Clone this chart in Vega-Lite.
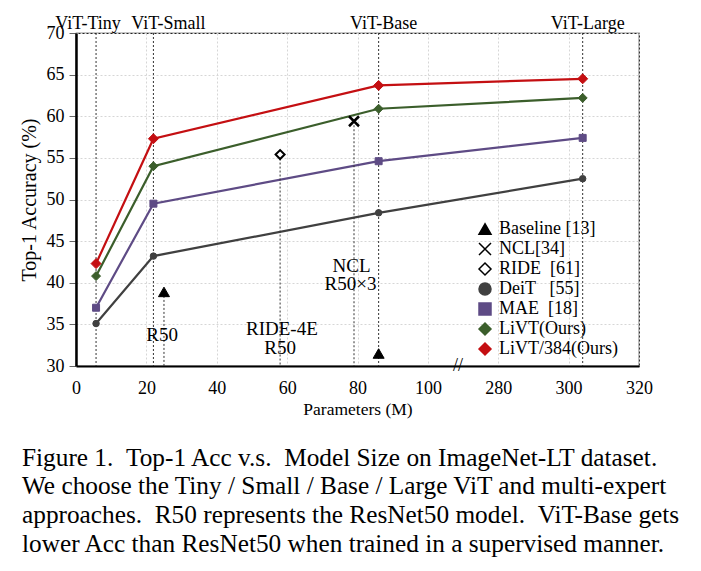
{
  "$schema": "https://vega.github.io/schema/vega-lite/v6.json",
  "width": 563,
  "height": 333,
  "autosize": {"type": "none"},
  "padding": {"left": 76, "top": 33, "right": 62, "bottom": 205},
  "background": "white",
  "title": {
    "text": [
      "Figure 1.\u00a0\u00a0Top-1 Acc v.s.\u00a0\u00a0Model Size on ImageNet-LT dataset.",
      "We choose the Tiny / Small / Base / Large ViT and multi-expert",
      "approaches.\u00a0\u00a0R50 represents the ResNet50 model.\u00a0\u00a0ViT-Base gets",
      "lower Acc than ResNet50 when trained in a supervised manner."
    ],
    "orient": "bottom",
    "anchor": "start",
    "frame": "group",
    "dx": -54,
    "offset": 28,
    "font": "Liberation Serif",
    "fontSize": 25.3,
    "fontWeight": "normal",
    "color": "black",
    "lineHeight": 28.8,
    "baseline": "top"
  },
  "config": {
    "font": "Liberation Serif",
    "view": {"stroke": "#222", "strokeWidth": 1.2},
    "axis": {
      "labelFont": "Liberation Serif",
      "titleFont": "Liberation Serif",
      "labelColor": "black",
      "titleColor": "black",
      "titleFontWeight": "normal",
      "gridColor": "#d6d6d6",
      "gridDash": [2, 2],
      "gridWidth": 1
    },
    "legend": {
      "labelFont": "Liberation Serif",
      "orient": "none", "legendX": 400, "legendY": 187, "padding": 0,
      "labelFontSize": 18, "labelColor": "black", "labelOffset": 5,
      "rowPadding": 2, "symbolSize": 144, "labelLimit": 300
    }
  },
  "datasets": {
    "main": [
      {"series": "Baseline [13]", "params": 25, "acc": 38.9},
      {"series": "Baseline [13]", "params": 86, "acc": 31.5},
      {"series": "NCL[34]", "params": 79, "acc": 59.4},
      {"series": "RIDE\u00a0\u00a0[61]", "params": 58, "acc": 55.4},
      {"series": "DeiT\u00a0\u00a0\u00a0[55]", "params": 5.7, "acc": 35.1},
      {"series": "DeiT\u00a0\u00a0\u00a0[55]", "params": 22, "acc": 43.2},
      {"series": "DeiT\u00a0\u00a0\u00a0[55]", "params": 86, "acc": 48.4},
      {"series": "DeiT\u00a0\u00a0\u00a0[55]", "params": 304, "acc": 52.5},
      {"series": "MAE\u00a0\u00a0[18]", "params": 5.7, "acc": 37.0},
      {"series": "MAE\u00a0\u00a0[18]", "params": 22, "acc": 49.5},
      {"series": "MAE\u00a0\u00a0[18]", "params": 86, "acc": 54.6},
      {"series": "MAE\u00a0\u00a0[18]", "params": 304, "acc": 57.4},
      {"series": "LiVT(Ours)", "params": 5.7, "acc": 40.8},
      {"series": "LiVT(Ours)", "params": 22, "acc": 54.0},
      {"series": "LiVT(Ours)", "params": 86, "acc": 60.9},
      {"series": "LiVT(Ours)", "params": 304, "acc": 62.2},
      {"series": "LiVT/384(Ours)", "params": 5.7, "acc": 42.3},
      {"series": "LiVT/384(Ours)", "params": 22, "acc": 57.3},
      {"series": "LiVT/384(Ours)", "params": 86, "acc": 63.7},
      {"series": "LiVT/384(Ours)", "params": 304, "acc": 64.5}
    ],
    "vit": [
      {"model": "ViT-Tiny", "params": 5.7, "top": 70, "bottom": 30},
      {"model": "ViT-Small", "params": 22, "top": 70, "bottom": 30},
      {"model": "ViT-Base", "params": 86, "top": 70, "bottom": 30},
      {"model": "ViT-Large", "params": 304, "top": 70, "bottom": 30}
    ],
    "drops": [
      {"params": 25, "top": 38.9, "bottom": 30},
      {"params": 58, "top": 55.4, "bottom": 30},
      {"params": 79, "top": 59.4, "bottom": 30}
    ],
    "notes": [
      {"params": 24.5, "acc": 33.0, "label": "R50"},
      {"params": 58.5, "acc": 33.7, "label": "RIDE-4E"},
      {"params": 58, "acc": 31.5, "label": "R50"},
      {"params": 78.3, "acc": 41.3, "label": "NCL"},
      {"params": 78.0, "acc": 39.1, "label": "R50×3"}
    ],
    "brk": [
      {"params": 177, "acc": 30, "label": "//"}
    ]
  },
  "layer": [
    {
      "data": {"name": "main"},
      "transform": [
        {"filter": {"field": "series", "oneOf": ["DeiT\u00a0\u00a0\u00a0[55]", "MAE\u00a0\u00a0[18]", "LiVT(Ours)", "LiVT/384(Ours)"]}}
      ],
      "mark": {"type": "line", "strokeWidth": 2.2},
      "encoding": {
        "x": {
          "field": "params", "type": "quantitative",
          "scale": {"type": "linear", "domain": [0, 100, 280, 320], "range": [0, 351.9, 422.2, 563], "nice": false, "zero": false},
          "axis": {
            "values": [0, 20, 40, 60, 80, 100, 280, 300, 320],
            "title": "Parameters (M)",
            "titleFontSize": 17.5,
            "titlePadding": 3,
            "labelFontSize": 18,
            "labelPadding": 13,
            "ticks": false,
            "grid": true,
            "domainColor": "black",
            "domainWidth": 2.2,
            "labelFlush": false,
            "labelOverlap": false
          }
        },
        "y": {
          "field": "acc", "type": "quantitative",
          "scale": {"domain": [30, 70], "nice": false, "zero": false},
          "axis": {
            "values": [30, 35, 40, 45, 50, 55, 60, 65, 70],
            "title": "Top-1 Accuracy (%)",
            "titleFontSize": 20,
            "titlePadding": 7,
            "labelFontSize": 18,
            "labelPadding": 5,
            "tickSize": 7,
            "tickColor": "#666",
            "grid": true,
            "domainColor": "black",
            "domainWidth": 2.5,
            "labelFlush": false,
            "labelOverlap": false
          }
        },
        "color": {
          "field": "series", "type": "nominal",
          "scale": {
            "domain": ["DeiT\u00a0\u00a0\u00a0[55]", "MAE\u00a0\u00a0[18]", "LiVT(Ours)", "LiVT/384(Ours)"],
            "range": ["#404040", "#5e4b85", "#3b5e2b", "#c40f12"]
          },
          "legend": null
        },
        "order": {"field": "params", "type": "quantitative"}
      }
    },
    {
      "data": {"name": "vit"},
      "mark": {"type": "rule", "strokeDash": [2, 2], "color": "#333", "strokeWidth": 1},
      "encoding": {
        "x": {"field": "params", "type": "quantitative"},
        "y": {"field": "top", "type": "quantitative"},
        "y2": {"field": "bottom"}
      }
    },
    {
      "data": {"name": "vit"},
      "transform": [{"filter": "datum.model === 'ViT-Tiny'"}],
      "mark": {"type": "text", "fontSize": 18, "align": "center", "baseline": "alphabetic", "dy": -4, "dx": -8, "color": "black", "font": "Liberation Serif"},
      "encoding": {
        "x": {"field": "params", "type": "quantitative"},
        "y": {"field": "top", "type": "quantitative"},
        "text": {"field": "model"}
      }
    },
    {
      "data": {"name": "vit"},
      "transform": [{"filter": "datum.model === 'ViT-Small'"}],
      "mark": {"type": "text", "fontSize": 18, "align": "center", "baseline": "alphabetic", "dy": -4, "dx": 15, "color": "black", "font": "Liberation Serif"},
      "encoding": {
        "x": {"field": "params", "type": "quantitative"},
        "y": {"field": "top", "type": "quantitative"},
        "text": {"field": "model"}
      }
    },
    {
      "data": {"name": "vit"},
      "transform": [{"filter": "datum.model === 'ViT-Base' || datum.model === 'ViT-Large'"}],
      "mark": {"type": "text", "fontSize": 18, "align": "center", "baseline": "alphabetic", "dy": -4, "dx": 5, "color": "black", "font": "Liberation Serif"},
      "encoding": {
        "x": {"field": "params", "type": "quantitative"},
        "y": {"field": "top", "type": "quantitative"},
        "text": {"field": "model"}
      }
    },
    {
      "data": {"name": "drops"},
      "mark": {"type": "rule", "strokeDash": [2, 2], "color": "#333", "strokeWidth": 1},
      "encoding": {
        "x": {"field": "params", "type": "quantitative"},
        "y": {"field": "top", "type": "quantitative"},
        "y2": {"field": "bottom"}
      }
    },
    {
      "data": {"name": "main"},
      "mark": {"type": "point", "filled": true, "opacity": 1},
      "encoding": {
        "x": {"field": "params", "type": "quantitative"},
        "y": {"field": "acc", "type": "quantitative"},
        "fill": {
          "field": "series", "type": "nominal",
          "scale": {
            "domain": ["Baseline [13]", "NCL[34]", "RIDE\u00a0\u00a0[61]", "DeiT\u00a0\u00a0\u00a0[55]", "MAE\u00a0\u00a0[18]", "LiVT(Ours)", "LiVT/384(Ours)"],
            "range": ["#000000", "#000000", "#ffffff", "#404040", "#5e4b85", "#3b5e2b", "#c40f12"]
          },
          "legend": {
            "title": null,
            "encode": {
              "symbols": {
                "size": {"value": 144},
                "strokeWidth": {
                  "condition": [
                    {"test": "datum.value === 'Baseline [13]'", "value": 1},
                    {"test": "datum.value === 'NCL[34]'", "value": 2.5}
                  ],
                  "value": 2
                },
                "opacity": {"value": 1}
              }
            }
          }
        },
        "stroke": {
          "field": "series", "type": "nominal",
          "scale": {
            "domain": ["Baseline [13]", "NCL[34]", "RIDE\u00a0\u00a0[61]", "DeiT\u00a0\u00a0\u00a0[55]", "MAE\u00a0\u00a0[18]", "LiVT(Ours)", "LiVT/384(Ours)"],
            "range": ["#000000", "#000000", "#000000", "#404040", "#5e4b85", "#3b5e2b", "#c40f12"]
          },
          "legend": {
            "title": null,
            "encode": {
              "symbols": {
                "size": {"value": 144},
                "strokeWidth": {
                  "condition": [
                    {"test": "datum.value === 'Baseline [13]'", "value": 1},
                    {"test": "datum.value === 'NCL[34]'", "value": 2.5}
                  ],
                  "value": 2
                },
                "opacity": {"value": 1}
              }
            }
          }
        },
        "shape": {
          "field": "series", "type": "nominal",
          "scale": {
            "domain": ["Baseline [13]", "NCL[34]", "RIDE\u00a0\u00a0[61]", "DeiT\u00a0\u00a0\u00a0[55]", "MAE\u00a0\u00a0[18]", "LiVT(Ours)", "LiVT/384(Ours)"],
            "range": ["triangle-up", "M-1,-1L1,1M1,-1L-1,1", "diamond", "circle", "square", "diamond", "diamond"]
          },
          "legend": {
            "title": null,
            "encode": {
              "symbols": {
                "size": {"value": 144},
                "strokeWidth": {
                  "condition": [
                    {"test": "datum.value === 'Baseline [13]'", "value": 1},
                    {"test": "datum.value === 'NCL[34]'", "value": 2.5}
                  ],
                  "value": 2
                },
                "opacity": {"value": 1}
              }
            }
          }
        },
        "size": {
          "condition": [
            {"test": "datum.series === 'Baseline [13]'", "value": 121},
            {"test": "datum.series === 'NCL[34]'", "value": 100},
            {"test": "datum.series === 'RIDE\u00a0\u00a0[61]'", "value": 81},
            {"test": "datum.series === 'DeiT\u00a0\u00a0\u00a0[55]'", "value": 42},
            {"test": "datum.series === 'MAE\u00a0\u00a0[18]'", "value": 49},
            {"test": "datum.series === 'LiVT(Ours)'", "value": 81}
          ],
          "value": 100
        },
        "strokeWidth": {
          "condition": [
            {"test": "datum.series === 'NCL[34]'", "value": 2.5},
            {"test": "datum.series === 'RIDE\u00a0\u00a0[61]'", "value": 2}
          ],
          "value": 1
        }
      }
    },
    {
      "data": {"name": "notes"},
      "mark": {"type": "text", "fontSize": 19, "align": "center", "baseline": "alphabetic", "color": "black", "font": "Liberation Serif"},
      "encoding": {
        "x": {"field": "params", "type": "quantitative"},
        "y": {"field": "acc", "type": "quantitative"},
        "text": {"field": "label"}
      }
    },
    {
      "data": {"name": "brk"},
      "mark": {"type": "text", "fontSize": 18, "align": "center", "baseline": "middle", "color": "black", "font": "Liberation Serif"},
      "encoding": {
        "x": {"field": "params", "type": "quantitative"},
        "y": {"field": "acc", "type": "quantitative"},
        "text": {"field": "label"}
      }
    }
  ]
}
